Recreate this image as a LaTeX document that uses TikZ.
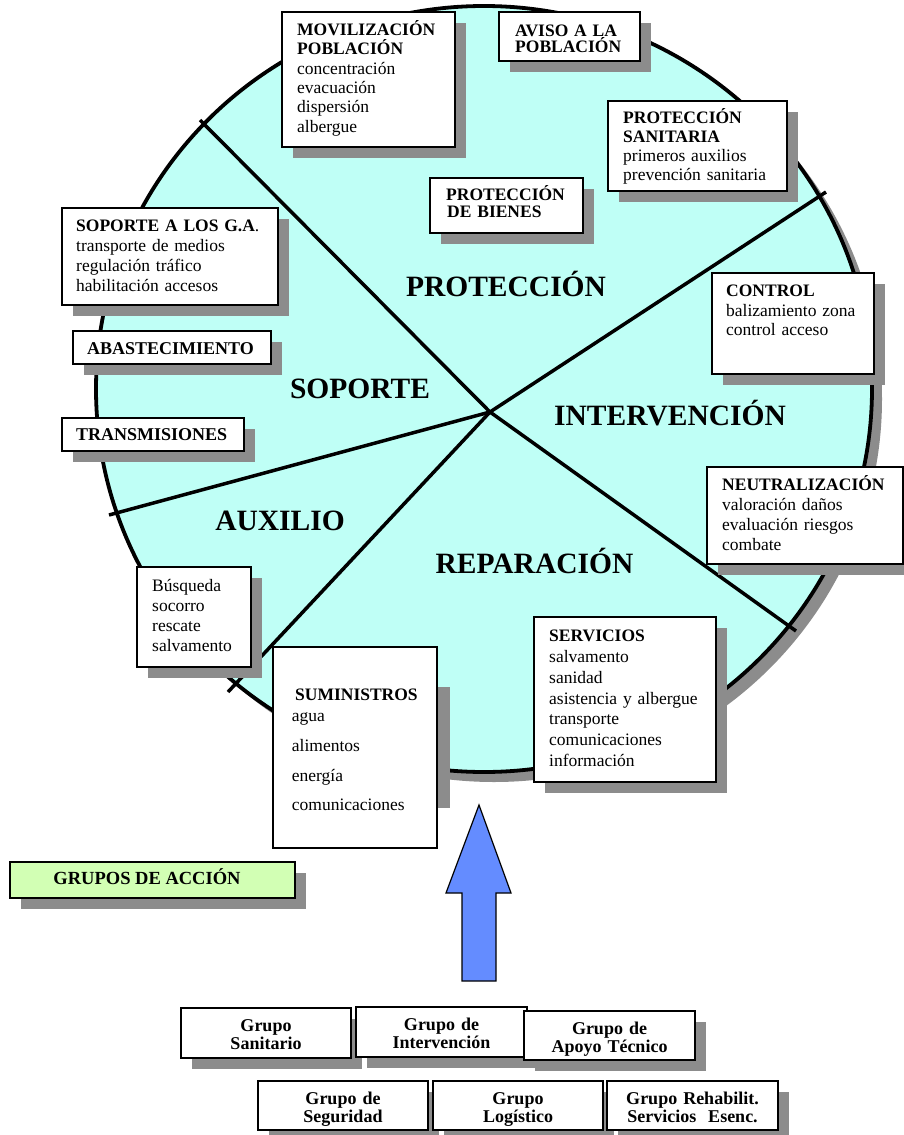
\documentclass[tikz,border=0pt]{standalone}
\usepackage{fontspec}
\setmainfont{Liberation Serif}
\usetikzlibrary{shadows}
\definecolor{shgray}{RGB}{140,140,140}
\definecolor{cyanfill}{RGB}{191,255,246}
\definecolor{greenfill}{RGB}{210,255,180}
\definecolor{arrowblue}{RGB}{100,140,255}
\begin{document}
\begin{tikzpicture}[x=1pt,y=-1pt,
  bx/.style={draw=black, fill=white, line width=1.4pt, inner sep=0pt,
    drop shadow={shadow xshift=11pt, shadow yshift=-11pt, fill=shgray, opacity=1}},
  bxns/.style={draw=black, fill=white, line width=1.4pt, inner sep=0pt},
  txt/.style={anchor=base west, inner sep=0pt, text width=240pt, align=left},
  big/.style={anchor=base, inner sep=0pt, font=\fontsize{29.5}{30}\selectfont\bfseries},
  grp/.style={anchor=base, inner sep=0pt, text width=170pt, align=center, font=\fontsize{18}{18}\selectfont\bfseries},
  spoke/.style={line width=3.5pt},
]
\fill[white] (0,0) rectangle (904,1135);
\useasboundingbox (0,0) rectangle (904,1135);

% wheel
\fill[shgray] (494,399) ellipse [x radius=388pt, y radius=383pt];
\draw[line width=3.8pt, fill=cyanfill] (484,389) ellipse [x radius=388pt, y radius=383pt];

\coordinate (c) at (490,412);
\coordinate (ul) at (200,120);
\coordinate (ur) at (826,192);
\coordinate (lr) at (796,631);
\coordinate (ll) at (228,692);
\coordinate (lf) at (109,515);
\draw[spoke] (ul) -- (c);
\draw[spoke] (c) -- (ur);
\draw[spoke] (c) -- (lr);
\draw[spoke] (c) -- (ll);
\draw[spoke] (c) -- (lf);

\node[big] (lprot) at (506,296) {PROTECCIÓN};
\node[big] (lsop) at (360,398) {SOPORTE};
\node[big] (lint) at (670,425) {INTERVENCIÓN};
\node[big] (laux) at (280,530) {AUXILIO};
\node[big] (lrep) at (534.5,573) {REPARACIÓN};

% boxes
\node[bx, minimum width=173pt, minimum height=135pt] (mov) at (368.5,79.5) {};
\node[txt, font=\fontsize{17.5}{19.3}\selectfont] (movt) at (297,35.5)
  {\textbf{MOVILIZACIÓN}\\\textbf{POBLACIÓN}\\concentración\\evacuación\\dispersión\\albergue};

\node[bx, minimum width=141pt, minimum height=49pt] (avi) at (569.5,36.5) {};
\node[txt, font=\fontsize{17.5}{16}\selectfont\bfseries] (avit) at (515,36) {AVISO A LA\\POBLACIÓN};

\node[bx, minimum width=179pt, minimum height=90pt] (psa) at (697.5,146) {};
\node[txt, font=\fontsize{17.5}{19.1}\selectfont] (psat) at (623,123.3)
  {\textbf{PROTECCIÓN}\\\textbf{SANITARIA}\\primeros auxilios\\prevención sanitaria};

\node[bx, minimum width=153pt, minimum height=55pt] (bie) at (506.5,205.5) {};
\node[txt, font=\fontsize{17.5}{17}\selectfont\bfseries] (biet) at (446,200.7) {PROTECCIÓN\\\hspace*{1pt}DE BIENES};

\node[bx, minimum width=216pt, minimum height=97pt] (sop) at (170,256.5) {};
\node[txt, font=\fontsize{17.5}{20}\selectfont] (sopt) at (76,231.7)
  {\textbf{SOPORTE A LOS G.A}.\\transporte de medios\\regulación tráfico\\habilitación accesos};

\node[bx, minimum width=198pt, minimum height=33pt] (aba) at (172,347.5) {};
\node[txt, font=\fontsize{18}{20}\selectfont\bfseries] (abat) at (87,354) {ABASTECIMIENTO};

\node[bx, minimum width=182pt, minimum height=33pt] (tra) at (153,434.5) {};
\node[txt, font=\fontsize{18}{20}\selectfont\bfseries] (trat) at (76,440) {TRANSMISIONES};

\node[bx, minimum width=162pt, minimum height=101pt] (ctl) at (793,323.5) {};
\node[txt, font=\fontsize{17.5}{19.5}\selectfont] (ctlt) at (726,296.7)
  {\textbf{CONTROL}\\balizamiento zona\\control acceso};

\node[bx, minimum width=196pt, minimum height=97pt] (neu) at (805,515.5) {};
\node[txt, font=\fontsize{17.5}{20}\selectfont] (neut) at (722,490)
  {\textbf{NEUTRALIZACIÓN}\\valoración daños\\evaluación riesgos\\combate};

\node[bx, minimum width=114pt, minimum height=100pt] (bus) at (194,617) {};
\node[txt, font=\fontsize{17.5}{20}\selectfont] (bust) at (152,591.7)
  {Búsqueda\\socorro\\rescate\\salvamento};

\fill[shgray] (283,687) rectangle (450,808);
\node[bxns, minimum width=164pt, minimum height=201pt] (sum) at (355,747.5) {};
\node[txt, font=\fontsize{17.5}{20}\selectfont\bfseries] (sumh) at (295,700.7) {SUMINISTROS};
\node[txt, font=\fontsize{17.5}{29.7}\selectfont] (sumb) at (291.7,721.7)
  {agua\\alimentos\\energía\\comunicaciones};

\node[bx, minimum width=182pt, minimum height=165pt] (ser) at (625,699.5) {};
\node[txt, font=\fontsize{17.5}{20.8}\selectfont] (sert) at (549,641.7)
  {\textbf{SERVICIOS}\\salvamento\\sanidad\\asistencia y albergue\\transporte\\comunicaciones\\información};

% legend
\node[bx, fill=greenfill, minimum width=285pt, minimum height=36pt] (gru) at (152.5,880) {};
\node[anchor=base, inner sep=0pt, font=\fontsize{18.5}{20}\selectfont\bfseries] (grut) at (147,884) {GRUPOS DE ACCIÓN};

% arrow
\draw[fill=arrowblue, line width=1.2pt, line join=miter]
  (479,805) -- (511,893) -- (496,893) -- (496,981) -- (462,981) -- (462,893) -- (446,893) -- cycle;

% groups
\node[bx, minimum width=170pt, minimum height=50pt] (gsan) at (266,1033) {};
\node[grp] (gsant) at (266,1031) {Grupo\\Sanitario};
\node[bx, minimum width=171pt, minimum height=50pt] (gint) at (441.5,1032) {};
\node[grp] (gintt) at (441.5,1030) {Grupo de\\Intervención};
\node[bx, minimum width=171pt, minimum height=49pt] (gapo) at (609.5,1035.5) {};
\node[grp] (gapot) at (609.5,1034) {Grupo de\\Apoyo Técnico};
\node[bx, minimum width=170pt, minimum height=49pt] (gseg) at (343,1105.5) {};
\node[grp] (gsegt) at (343,1104) {Grupo de\\Seguridad};
\node[bx, minimum width=170pt, minimum height=49pt] (glog) at (518,1105.5) {};
\node[grp] (glogt) at (518,1104) {Grupo\\Logístico};
\node[bx, minimum width=171pt, minimum height=49pt] (greh) at (692.5,1105.5) {};
\node[grp] (greht) at (692.5,1104) {Grupo Rehabilit.\\Servicios\ \ Esenc.};
\end{tikzpicture}
\end{document}
